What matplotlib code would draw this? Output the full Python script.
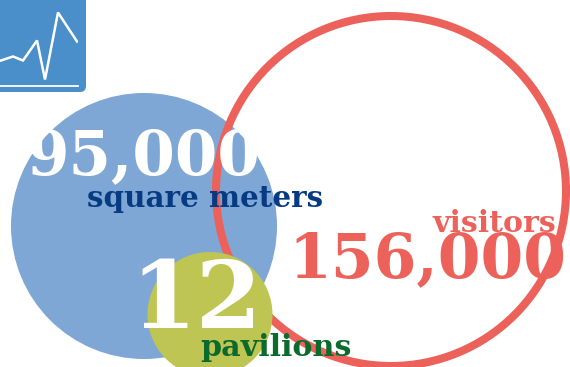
import matplotlib
matplotlib.use("Agg")
import matplotlib.pyplot as plt
from matplotlib.patches import Circle, FancyBboxPatch

# Headline figures
metric_values = ["95,000", "156,000", "12"]
metric_units = ["square meters", "visitors", "pavilions"]
circle_radii = [133, 175, 62.5]

# Sparkline in the badge
spark_x = [1, 13, 23, 37, 45, 58, 77]
spark_y = [25, 29, 25, 45, 6, 73, 44]

BLUE = "#7fa7d5"
RED = "#ec625b"
OLIVE = "#bfc552"
NAVY = "#063b83"
GREEN = "#0a6b2d"
BADGE = "#4a8fca"
SERIF = "DejaVu Serif"

W, H = 570, 367
fig = plt.figure(figsize=(W / 100, H / 100), dpi=100, facecolor="white")
ax = fig.add_axes([0, 0, 1, 1])
ax.set_xlim(0, W)
ax.set_ylim(H, 0)
ax.set_aspect("equal")
ax.axis("off")

# Badge with the small line chart
ax.add_patch(FancyBboxPatch((-20, -20), 106, 112,
                            boxstyle="round,pad=0,rounding_size=6",
                            fc=BADGE, ec="none", zorder=1))
spark = fig.add_axes([0, 1 - 85.5 / H, 78 / W, 85.5 / H])
spark.set_xlim(0, 78)
spark.set_ylim(0, 85.5)
spark.patch.set_alpha(0)
for side in ("top", "left", "right"):
    spark.spines[side].set_visible(False)
spark.spines["bottom"].set_color("white")
spark.spines["bottom"].set_linewidth(1.3)
spark.set_xticks([])
spark.set_yticks([])
spark.plot(spark_x, spark_y, color="white", lw=1.8, solid_joinstyle="miter")

# Sized circles
ax.add_patch(Circle((144, 226), circle_radii[0], fc=BLUE, ec="none", zorder=2))
ax.add_patch(Circle((391, 191), circle_radii[1], fc="none", ec=RED, lw=5.8, zorder=3))
ax.add_patch(Circle((210, 314.5), circle_radii[2], fc=OLIVE, ec="none", zorder=4))

# Figures and their units
ax.text(27, 174, metric_values[0], family=SERIF, weight="bold", fontsize=44,
        color="white", ha="left", va="baseline", zorder=5)
ax.text(87, 207, metric_units[0], family=SERIF, weight="bold", fontsize=21.2,
        color=NAVY, ha="left", va="baseline", zorder=6)
ax.text(288, 277, metric_values[1], family=SERIF, weight="bold", fontsize=44.3,
        color=RED, ha="left", va="baseline", zorder=5)
ax.text(432, 232, metric_units[1], family=SERIF, weight="bold", fontsize=21.6,
        color=RED, ha="left", va="baseline", zorder=5)
ax.text(130, 328, metric_values[2], family=SERIF, weight="bold", fontsize=68,
        color="white", ha="left", va="baseline", zorder=5)
ax.text(200, 356, metric_units[2], family=SERIF, weight="bold", fontsize=21.7,
        color=GREEN, ha="left", va="baseline", zorder=6)

fig.savefig("out.png", dpi=100, facecolor="white")
